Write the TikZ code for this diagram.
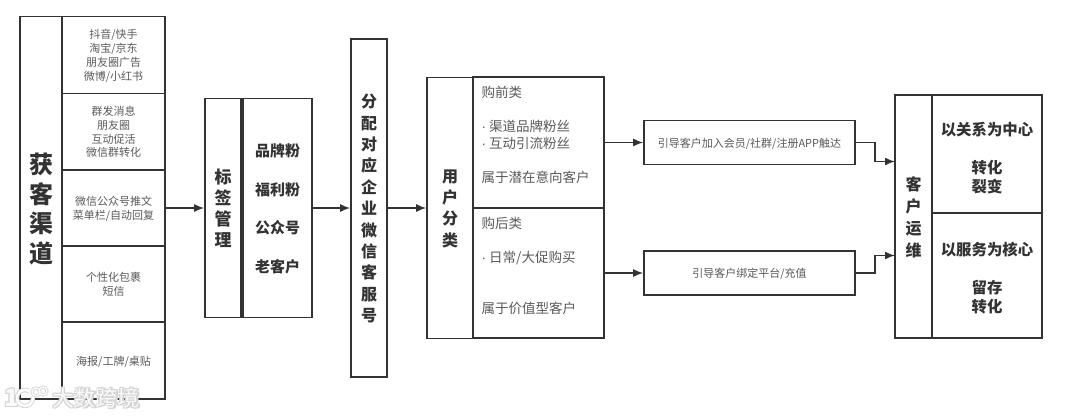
\documentclass[tikz,border=0pt]{standalone}
\usepackage{fontspec}
\setmainfont{Noto Sans CJK SC}
\newfontfamily\latine{Liberation Sans}
\usetikzlibrary{arrows.meta, positioning}
\definecolor{trait}{RGB}{51,51,51}
\definecolor{gris}{RGB}{90,90,90}
\definecolor{fond}{RGB}{212,212,212}

\tikzset{
	boite/.style={draw=trait, line width=1.6pt, inner sep=0pt, fill=white},
	liste/.style={text=gris, align=center, text depth=0pt, font=\fontsize{11}{13.8}\selectfont},
	titre/.style={text=trait, align=center, text depth=0pt, font=\bfseries\fontsize{16}{21.3}\selectfont},
	corps/.style={text=gris, align=left, anchor=north west, inner sep=0pt, font=\fontsize{13.5}{17}\selectfont},
	lien/.style={draw=trait, line width=1.5pt, -{Latex[length=10pt,width=8pt]}},
	filigrane/.style={inner sep=0pt, font=\fontsize{22}{22}\selectfont}
}
\newcommand{\puce}{{\latine ·} }

\begin{document}
\begin{tikzpicture}[x=1pt, y=-1pt]
	\useasboundingbox (0,0) rectangle (1080,418);

	% Canaux
	\node[boite, minimum width=42pt, minimum height=382.5pt, titre, font=\bfseries\fontsize{24}{29.5}\selectfont] (canaux) at (41,207.75) {获\\客\\渠\\道};
	\node[boite, minimum width=103pt, minimum height=77pt, liste] (canalA) at (113.5,55) {抖音/快手\\淘宝/京东\\朋友圈广告\\微博/小红书};
	\node[boite, minimum width=103pt, minimum height=76pt, liste] (canalB) at (113.5,131.5) {群发消息\\朋友圈\\互动促活\\微信群转化};
	\node[boite, minimum width=103pt, minimum height=76pt, liste] (canalC) at (113.5,208) {微信公众号推文\\菜单栏/自动回复};
	\node[boite, minimum width=103pt, minimum height=76.5pt, liste] (canalD) at (113.5,284) {个性化包裹\\短信};
	\node[boite, minimum width=103pt, minimum height=77pt, liste] (canalE) at (113.5,360.5) {海报/工牌/桌贴};

	% Etiquettes
	\node[boite, minimum width=36pt, minimum height=219pt, titre, font=\bfseries\fontsize{17}{21}\selectfont] (tags) at (223,208) {标\\签\\管\\理};
	\node[boite, minimum width=69pt, minimum height=219pt, titre, font=\bfseries\fontsize{15}{38.6}\selectfont] (fans) at (277.5,208) {品牌粉\\福利粉\\公众号\\老客户};

	% Service client
	\node[boite, minimum width=36pt, minimum height=338pt, titre, font=\bfseries\fontsize{16}{21.4}\selectfont] (service) at (369,208) {分\\配\\对\\应\\企\\业\\微\\信\\客\\服\\号};

	% Utilisateurs
	\node[boite, minimum width=46pt, minimum height=261pt, titre] (users) at (450,208) {用\\户\\分\\类};
	\node[boite, minimum width=131pt, minimum height=130.5pt] (avant) at (538.5,142.5) {};
	\node[boite, minimum width=131pt, minimum height=130.5pt] (apres) at (538.5,273) {};
	\node[corps] (avantT) at (481.5,86) {购前类\\~\\\puce 渠道品牌粉丝\\\puce 互动引流粉丝\\~\\属于潜在意向客户};
	\node[corps] (apresT) at (481.5,216.5) {购后类\\~\\\puce 日常/大促购买\\~\\~\\属于价值型客户};

	% Guidage
	\node[boite, minimum width=211pt, minimum height=44pt, liste] (guideA) at (749.5,142.5) {引导客户加入会员/社群/注册APP触达};
	\node[boite, minimum width=211pt, minimum height=44pt, liste] (guideB) at (749.5,273) {引导客户绑定平台/充值};

	% Exploitation
	\node[boite, minimum width=37pt, minimum height=243pt, titre, font=\bfseries\fontsize{16}{21.7}\selectfont] (client) at (913.5,216.5) {客\\户\\运\\维};
	\node[boite, minimum width=110pt, minimum height=118pt] (relation) at (987,154) {};
	\node[boite, minimum width=110pt, minimum height=125pt] (coeur) at (987,275.5) {};
	\node[titre, font=\bfseries\fontsize{15.4}{19}\selectfont] (relationT) at (987,157.5) {以关系为中心\\~\\转化\\裂变};
	\node[titre, font=\bfseries\fontsize{15.4}{19}\selectfont] (coeurT) at (987,277) {以服务为核心\\~\\留存\\转化};

	% Fleches
	\draw[lien] (canalC) -- (tags);
	\draw[lien] (fans) -- (service);
	\draw[lien] (service) -- (users);
	\draw[lien] (avant) -- (guideA);
	\draw[lien] (apres) -- (guideB);
	\coordinate (entreeA) at (895,161.5);
	\coordinate (entreeB) at (895,255.5);
	\draw[lien] (guideA) -- ++(125.5,0) |- (entreeA);
	\draw[lien] (guideB) -- ++(125.5,0) |- (entreeB);

	% Filigrane
	\foreach \dx/\dy [count=\i] in {-1/0, 1/0, 0/-1, 0/1, -1/-1, 1/1, -1/1, 1/-1} {
		\node[filigrane, text=fond] (ombre\i) at (96+\dx,398+\dy) {大数跨境};
		\node[filigrane, text=fond, font=\bfseries\fontsize{24}{24}\selectfont] (ombreUn\i) at (12+\dx,398+\dy) {1};
	}
	\draw[fond, line width=4.5pt] (29,391) arc (60:370:8pt);
	\draw[fond, line width=3pt] (36,392) circle (4pt) (43,391) circle (4pt);
	\draw[white, line width=2.6pt] (29,391) arc (60:370:8pt);
	\draw[white, line width=1.2pt] (36,392) circle (4pt) (43,391) circle (4pt);
	\node[filigrane, text=white, opacity=.9] (marque) at (96,398) {大数跨境};
	\node[filigrane, text=white, opacity=.9, font=\bfseries\fontsize{24}{24}\selectfont] (chiffre) at (12,398) {1};
\end{tikzpicture}
\end{document}
